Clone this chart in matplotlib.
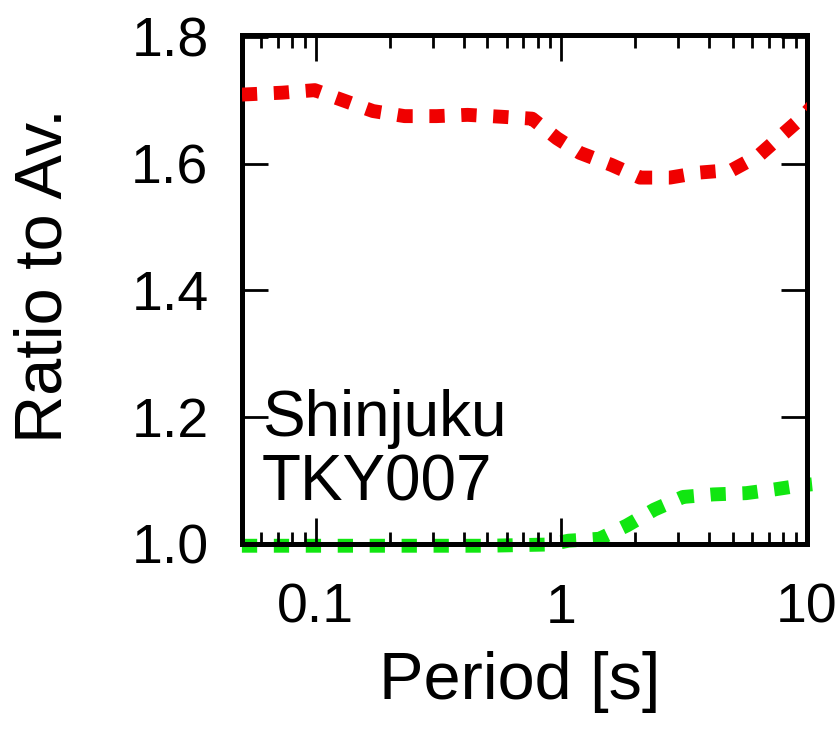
import matplotlib
matplotlib.use("Agg")
import matplotlib.pyplot as plt

plt.rcParams['font.family'] = ['Liberation Sans', 'DejaVu Sans']

# values
red_period = [0.05, 0.073, 0.099, 0.129, 0.171, 0.23, 0.31, 0.415, 0.57, 0.76,
              0.96, 1.19, 1.6, 2.09, 2.77, 3.67, 4.96, 6.38, 7.91, 9.63, 10.5]
red_ratio = [1.709, 1.712, 1.716, 1.700, 1.683, 1.675, 1.675, 1.677, 1.674, 1.671,
             1.640, 1.617, 1.598, 1.578, 1.578, 1.586, 1.590, 1.613, 1.645, 1.674, 1.69]

green_period = [0.05, 0.1, 0.2, 0.5, 0.9, 1.07, 1.43, 1.85, 2.39, 3.13, 4.15, 5.65, 7.41, 9.37, 10.5]
green_ratio = [0.997, 0.997, 0.997, 0.997, 0.999, 1.005, 1.008, 1.029, 1.054, 1.074,
               1.078, 1.080, 1.086, 1.092, 1.094]

station = "Shinjuku\nTKY007"
yticks = [1.0, 1.2, 1.4, 1.6, 1.8]

fig = plt.figure(figsize=(8.37, 7.45), dpi=100)
ax = fig.add_axes([0.289, 0.270, 0.675, 0.683])

ax.plot(red_period, red_ratio, color='#f00000', lw=10, dashes=(1.1, 1.2),
        dash_capstyle='butt', zorder=3)
ax.plot(green_period, green_ratio, color='#11e611', lw=10, dashes=(1.1, 1.2),
        dash_capstyle='butt', zorder=1, clip_on=False)

ax.set_xscale('log')
ax.set_xlim(0.05, 10)
ax.set_ylim(1.0, 1.803)
ax.set_yticks(yticks)
ax.set_yticklabels([f"{v:.1f}" for v in yticks])
ax.set_xticks([0.1, 1, 10])
ax.set_xticklabels(["0.1", "1", "10"])

for s in ax.spines.values():
    s.set_linewidth(3.6)
    s.set_zorder(2)

ax.tick_params(which='major', direction='in', length=19, width=2,
               top=True, right=True, labelsize=40, pad=28)
ax.tick_params(axis='y', which='major', pad=24)
ax.tick_params(which='minor', direction='in', length=9, width=2, top=True, right=True)
ax.tick_params(axis='y', which='minor', left=False, right=False)

ax.set_xlabel("Period [s]", fontsize=48)
ax.xaxis.label.set_va('center')
ax.xaxis.set_label_coords(0.492, -0.272)
ax.set_ylabel("Ratio to Av.", fontsize=48)
ax.yaxis.label.set_va('center')
ax.yaxis.label.set_ha('center')
ax.yaxis.set_label_coords(-0.350, 0.528)

ax.text(0.035, 0.06, station, transform=ax.transAxes, fontsize=46,
        ha='left', va='bottom', linespacing=1.1)

fig.savefig("out.png", dpi=100)
